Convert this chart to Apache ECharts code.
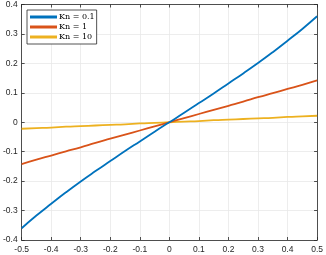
<!DOCTYPE html>
<html><head><meta charset="utf-8">
<script src="https://cdn.jsdelivr.net/npm/echarts@6/dist/echarts.min.js"></script>
<style>html,body{margin:0;padding:0;background:#fff}#c{width:326px;height:255px}</style>
</head><body><div id="c"></div>
<script>
const xs = [-0.5,-0.45,-0.4,-0.35,-0.3,-0.25,-0.2,-0.15,-0.1,-0.05,0,0.05,0.1,0.15,0.2,0.25,0.3,0.35,0.4,0.45,0.5];
const kn01 = [-0.360,-0.317,-0.277,-0.238,-0.201,-0.166,-0.132,-0.098,-0.065,-0.032,0,0.032,0.065,0.098,0.132,0.166,0.201,0.238,0.277,0.317,0.360];
const kn1 = [-0.142,-0.127,-0.113,-0.099,-0.085,-0.070,-0.056,-0.042,-0.028,-0.014,0,0.014,0.028,0.042,0.056,0.070,0.085,0.099,0.113,0.127,0.142];
const kn10 = [-0.022,-0.020,-0.018,-0.015,-0.013,-0.011,-0.009,-0.007,-0.004,-0.002,0,0.002,0.004,0.007,0.009,0.011,0.013,0.015,0.018,0.020,0.022];
const names = ['Kn = 0.1','Kn = 1','Kn = 10'];
const colors = ['#0072BD','#D95319','#EDB120'];
const xTicks = {min:-0.5,max:0.5,interval:0.1};
const yTicks = {min:-0.4,max:0.4,interval:0.1};

const pair = arr => xs.map((x,i)=>[x,arr[i]]);
const axisCol = '#262626';
const fmt = v => { const r = Math.round(v*10)/10; return r === 0 ? '0' : String(r); };
function mkAxis(pos, t, show, type){
  return {type:'value', position:pos, min:t.min, max:t.max, interval:t.interval,
    axisLine:{show:true,onZero:false,lineStyle:{color:axisCol,width:0.8}},
    axisTick:{show:true,inside:true,length:3,lineStyle:{color:axisCol,width:0.8}},
    axisLabel:{show:show,color:axisCol,fontFamily:'Liberation Sans',fontSize:8.5,formatter:fmt,margin:type==='x'?5:4},
    splitLine:{show:show,lineStyle:{color:'#e8e8e8',width:0.8}}};
}
const chart = echarts.init(document.getElementById('c'),null,{renderer:'canvas'});
const series = [kn01,kn1,kn10].map((arr,i)=>({
  name:names[i], type:'line', data:pair(arr), showSymbol:false, symbol:'none', smooth:true,
  lineStyle:{color:colors[i],width:1.8}, itemStyle:{color:colors[i]}, z:3-i+2, animation:false
}));
chart.setOption({
  animation:false,
  grid:{left:20,right:6,top:3,bottom:15,containLabel:false},
  xAxis:[mkAxis('bottom',xTicks,true,'x'), mkAxis('top',xTicks,false,'x')],
  yAxis:[mkAxis('left',yTicks,true,'y'), mkAxis('right',yTicks,false,'y')],
  legend:{show:true, orient:'vertical', left:27, top:10, itemWidth:27, itemHeight:3, itemGap:2,
    icon:'rect', backgroundColor:'#fff', borderColor:axisCol, borderWidth:0.8, padding:[3,2,3,3],
    textStyle:{fontFamily:'DejaVu Serif',fontSize:8,color:'#000',padding:[0,0,0,-3]},
    data:names},
  series:series
});
</script></body></html>
